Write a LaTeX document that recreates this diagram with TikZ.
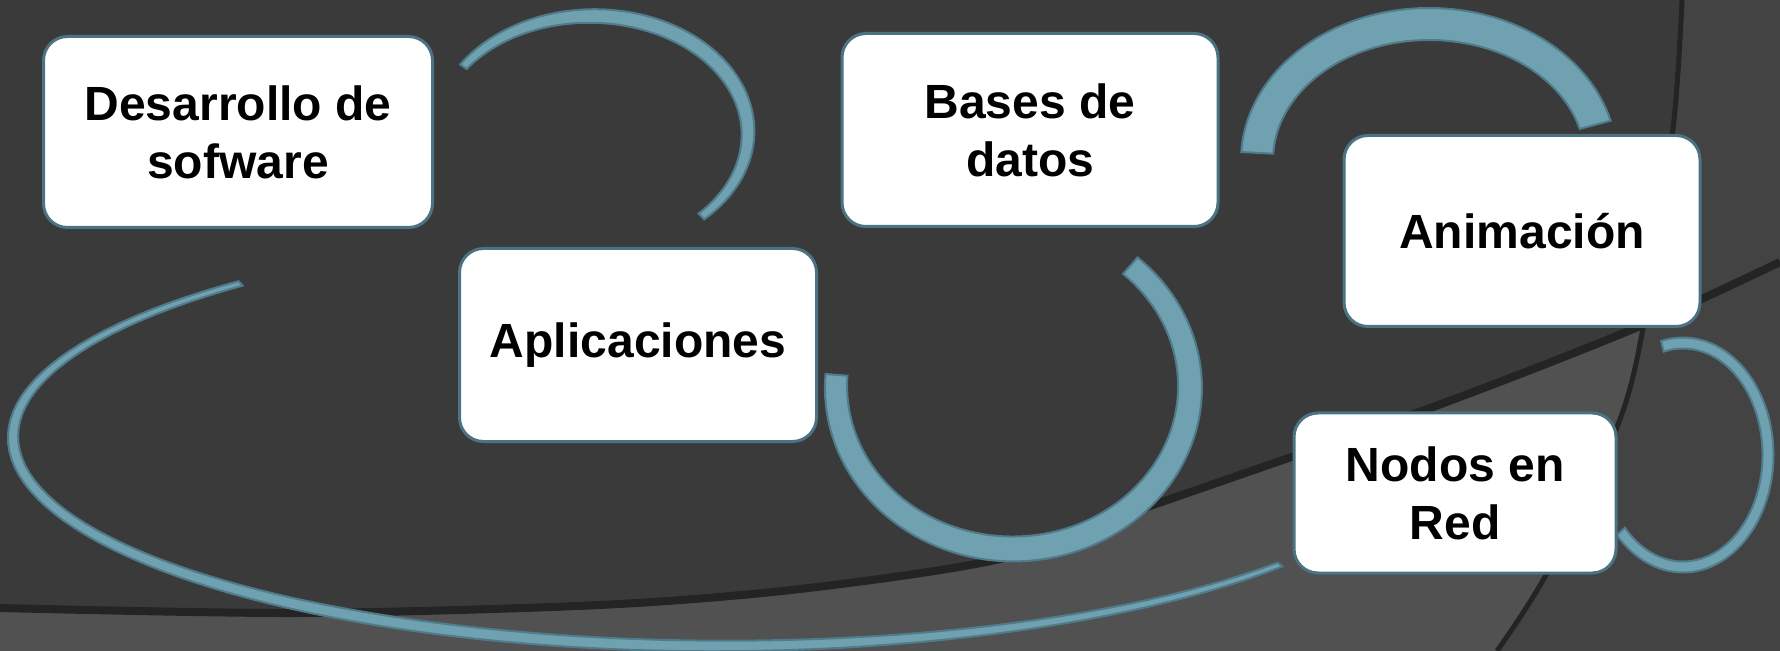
\documentclass[tikz,border=0pt]{standalone}
\usepackage{fontspec}
\setmainfont{Liberation Sans}
\usepackage{xcolor}
\usepackage{tikz}

\definecolor{slate}{HTML}{3A3A3A}
\definecolor{slatelight}{HTML}{515151}
\definecolor{slateright}{HTML}{434343}
\definecolor{slateedge}{HTML}{242424}
\definecolor{arcfill}{HTML}{6FA1B1}
\definecolor{arcline}{HTML}{4F7B8B}
\definecolor{boxline}{HTML}{4B7383}

% ring segment: centre, x radius, y radius, start, end, end width, middle width
\newcommand{\ringarc}[7]{%
  \filldraw[ring, shift={(#1)}]
    plot[domain=#4:#5, samples=90]
      ({(#2+0.5*(#6+(#7-#6)*sin((\x-(#4))/((#5)-(#4))*180)))*cos(\x)},
       {(#3+0.5*(#6+(#7-#6)*sin((\x-(#4))/((#5)-(#4))*180)))*sin(\x)})
    -- plot[domain=#5:#4, samples=90]
      ({(#2-0.5*(#6+(#7-#6)*sin((\x-(#4))/((#5)-(#4))*180)))*cos(\x)},
       {(#3-0.5*(#6+(#7-#6)*sin((\x-(#4))/((#5)-(#4))*180)))*sin(\x)})
    -- cycle;}

\begin{document}
\begin{tikzpicture}[
    x=0.5pt, y=-0.5pt,
    every node/.style={rectangle, draw=boxline, line width=1.5pt, fill=white, rounded corners=12pt, align=center, inner sep=0pt, font=\fontsize{24}{29}\selectfont\bfseries},
    ring/.style={fill=arcfill, draw=arcline, line width=1pt}
]

% Background
\useasboundingbox (0,0) rectangle (1780,651);
\fill[slateright] (0,0) rectangle (1780,651);
\fill[slate] (0,0) -- plot[smooth] coordinates {(1682,0) (1673,129) (1643,328) (1617,427) (1547,573) (1497,651)} -- (0,651) -- cycle;
\begin{scope}
  \clip (0,0) -- plot[smooth] coordinates {(1682,0) (1673,129) (1643,328) (1617,427) (1547,573) (1497,651)} -- (0,651) -- cycle;
  \fill[slatelight] plot[smooth] coordinates {(0,611) (300,616) (600,608) (800,592) (1000,562) (1133,515) (1433,410) (1643,328) (1780,265)} -- (1780,651) -- (0,651) -- cycle;
\end{scope}
\draw[slateedge, line width=4pt, shift={(0,-3)}] plot[smooth] coordinates {(0,611) (300,616) (600,608) (800,592) (1000,562) (1133,515) (1433,410) (1643,328) (1780,265)};
\draw[slateedge, line width=2.5pt] plot[smooth] coordinates {(1682,0) (1673,129) (1643,328) (1617,427) (1547,573) (1497,651)};

% Arcs
\coordinate (cA) at (592,133);
\coordinate (cB) at (1013,387);
\coordinate (cC) at (1429,160);
\coordinate (cD) at (1683,455);
\coordinate (cE) at (720,437);
\ringarc{cA}{156}{117}{-145.5}{45.5}{8}{15}
\ringarc{cB}{177}{162}{-48.5}{184.3}{22}{25}
\ringarc{cC}{172}{136}{-177}{-15}{32}{32}
\ringarc{cD}{85}{112}{-104}{137}{11}{11}
\ringarc{cE}{707}{209}{37.6}{227.3}{6}{12}

% Nodes
\node[minimum width=194.5pt, minimum height=95.5pt] (soft) at (238,132)  {Desarrollo de\\sofware};
\node[minimum width=178.5pt, minimum height=96.5pt] (apps) at (638,345)  {Aplicaciones};
\node[minimum width=188pt,   minimum height=96.5pt] (db)   at (1030,130) {Bases de\\datos};
\node[minimum width=178pt,   minimum height=95.5pt] (anim) at (1522,231) {Animación};
\node[minimum width=161pt,   minimum height=80pt]   (net)  at (1455,493) {Nodos en\\Red};

\end{tikzpicture}
\end{document}
